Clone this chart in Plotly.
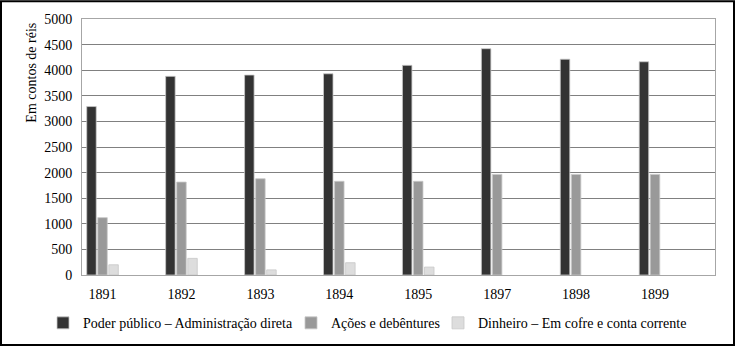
import plotly.graph_objects as go

years = ["1891", "1892", "1893", "1894", "1895", "1897", "1898", "1899"]
poder_publico = [3290, 3880, 3905, 3930, 4095, 4420, 4215, 4165]
acoes_debentures = [1120, 1815, 1880, 1830, 1830, 1965, 1965, 1965]
dinheiro = [200, 325, 100, 240, 155, None, None, None]

series_names = [
    "Poder público – Administração direta",
    "Ações e debêntures",
    "Dinheiro – Em cofre e conta corrente",
]
series_colors = ["#333333", "#999999", "#dddddd"]
y_ticks = list(range(0, 5001, 500))

FONT = "Liberation Serif"
FS = 14

W, H = 735, 351
L, R, T, B = 82, 20, 19, 72
pw, ph = W - L - R, H - T - B


def px_x(p):
    return (p - L) / pw


def px_y(p):
    return (H - B - p) / ph


legend_ids = ["legend", "legend2", "legend3"]
legend_px = [43, 291, 438]

fig = go.Figure()
for name, vals, col, lg in zip(series_names, [poder_publico, acoes_debentures, dinheiro],
                               series_colors, legend_ids):
    fig.add_trace(go.Bar(
        x=years, y=vals, name=name, legend=lg,
        marker=dict(color=col, line=dict(color="#c8c8c8", width=0.8)),
    ))

legend_common = dict(
    orientation="h", xanchor="left", yanchor="middle", y=px_y(328),
    font=dict(family=FONT, size=FS, color="#000000"),
    itemwidth=30, bgcolor="rgba(0,0,0,0)",
)

fig.update_layout(
    width=W, height=H,
    margin=dict(l=L, r=R, t=T, b=B),
    paper_bgcolor="white", plot_bgcolor="white",
    barmode="group", bargap=0.58, bargroupgap=0.14,
    font=dict(family=FONT, size=FS, color="#000000"),
    showlegend=True,
    legend=dict(x=px_x(legend_px[0]), **legend_common),
    legend2=dict(x=px_x(legend_px[1]), **legend_common),
    legend3=dict(x=px_x(legend_px[2]), **legend_common),
    xaxis=dict(
        type="category", range=[-0.26, 7.76],
        showgrid=False, showline=True, linecolor="#a6a6a6", linewidth=1, mirror=True,
        ticks="", ticklabelstandoff=6,
        tickfont=dict(family=FONT, size=FS, color="#000000"),
    ),
    yaxis=dict(
        range=[0, 5000], tickvals=y_ticks,
        showgrid=True, gridcolor="#808080", gridwidth=1, zeroline=False,
        showline=True, linecolor="#a6a6a6", linewidth=1, mirror=True,
        ticks="", ticklabelstandoff=6,
        tickfont=dict(family=FONT, size=FS, color="#000000"),
    ),
    annotations=[dict(
        text="Em contos de réis", textangle=-90,
        xref="paper", yref="paper", x=px_x(31.5), y=px_y(74),
        xanchor="center", yanchor="middle", showarrow=False,
        font=dict(family=FONT, size=FS, color="#000000"),
    )],
    shapes=[dict(
        type="rect", xref="paper", yref="paper",
        x0=px_x(1), x1=px_x(734), y0=px_y(350), y1=px_y(1),
        line=dict(color="black", width=2), fillcolor="rgba(0,0,0,0)", layer="above",
    )],
)

fig.write_html(
    "out.html",
    config={"displayModeBar": False},
    post_script="document.body.style.margin='0px';document.body.style.overflow='hidden';",
)
